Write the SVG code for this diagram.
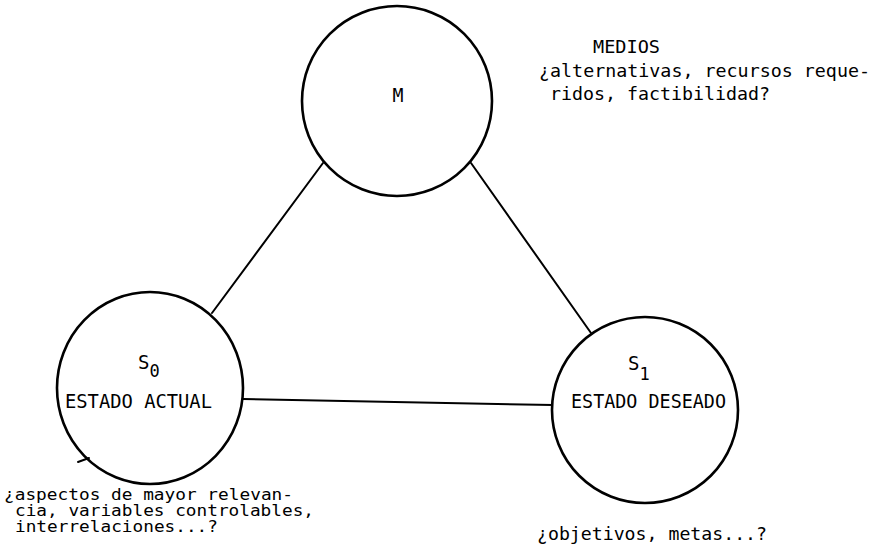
<svg xmlns="http://www.w3.org/2000/svg" width="882" height="559" viewBox="0 0 882 559">
  <style>
    .node { fill: #ffffff; stroke: #000000; stroke-width: 2.6; }
    .edge { stroke: #000000; stroke-width: 2; fill: none; stroke-linecap: round; }
    .lbl { font-family: "DejaVu Sans Mono", "Liberation Mono", monospace; fill: #000000; }
    .big { font-size: 19px; }
    .note { font-size: 17px; }
    .tight { font-size: 15.5px; }
  </style>
  <rect x="0" y="0" width="882" height="559" fill="#ffffff"/>

  <!-- connectors between the three states -->
  <g id="connectors">
    <line class="edge" x1="323" y1="163" x2="212" y2="313"/>
    <line class="edge" x1="471" y1="163" x2="591" y2="333"/>
    <line class="edge" x1="243" y1="399" x2="553" y2="405"/>
  </g>

  <!-- means -->
  <g id="node-m">
    <circle class="node" cx="397" cy="101" r="95"/>
    <text class="lbl big" x="398" y="102" text-anchor="middle" textLength="11" lengthAdjust="spacingAndGlyphs">M</text>
  </g>

  <!-- current state -->
  <g id="node-s0">
    <ellipse class="node" cx="150" cy="388" rx="93" ry="96"/>
    <path class="edge" d="M78 462 L89 458"/>
    <text class="lbl big" x="138" y="369">S<tspan font-size="17" dy="8">0</tspan></text>
    <text class="lbl big" x="65" y="408" textLength="147" lengthAdjust="spacingAndGlyphs">ESTADO ACTUAL</text>
  </g>

  <!-- desired state -->
  <g id="node-s1">
    <circle class="node" cx="645" cy="410" r="93"/>
    <text class="lbl big" x="628" y="370">S<tspan font-size="17" dy="10">1</tspan></text>
    <text class="lbl big" x="571" y="408" textLength="155" lengthAdjust="spacingAndGlyphs">ESTADO DESEADO</text>
  </g>

  <!-- annotations -->
  <g id="notes">
    <text class="lbl note" x="593" y="53" textLength="67" lengthAdjust="spacingAndGlyphs">MEDIOS</text>
    <text class="lbl note" x="539" y="77" textLength="331" lengthAdjust="spacingAndGlyphs">¿alternativas, recursos reque-</text>
    <text class="lbl note" x="550" y="100" textLength="220" lengthAdjust="spacingAndGlyphs">ridos, factibilidad?</text>
    <text class="lbl tight" x="4" y="500" textLength="289" lengthAdjust="spacingAndGlyphs">¿aspectos de mayor relevan-</text>
    <text class="lbl tight" x="15" y="516" textLength="299" lengthAdjust="spacingAndGlyphs">cia, variables controlables,</text>
    <text class="lbl tight" x="15" y="532" textLength="203" lengthAdjust="spacingAndGlyphs">interrelaciones...?</text>
    <text class="lbl note" x="537" y="540" textLength="230" lengthAdjust="spacingAndGlyphs">¿objetivos, metas...?</text>
  </g>
</svg>
